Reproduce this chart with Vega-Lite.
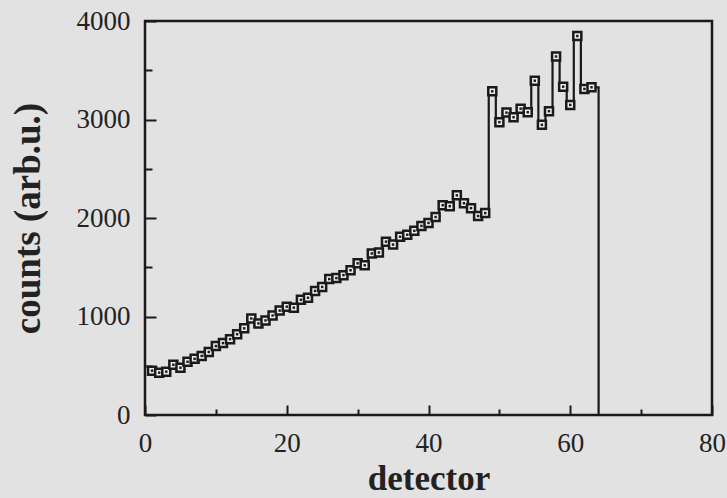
{
  "$schema": "https://vega.github.io/schema/vega-lite/v6.json",
  "width": 567,
  "height": 394,
  "autosize": {"type": "none"},
  "padding": {"left": 145, "top": 21, "right": 15, "bottom": 83},
  "background": "#e2e2e2",
  "config": {
    "view": {"stroke": "#1a1a1a", "strokeWidth": 2.5, "fill": "#e2e2e2"},
    "axis": {
      "domain": false,
      "grid": false,
      "tickColor": "#1a1a1a",
      "tickWidth": 2,
      "labelFont": "Liberation Serif",
      "labelFontSize": 27,
      "labelColor": "#222222",
      "titleFont": "Liberation Serif",
      "titleFontWeight": "bold",
      "titleColor": "#222222"
    }
  },
  "datasets": {
    "points": [
      {"detector": 1, "counts": 450}, {"detector": 2, "counts": 430}, {"detector": 3, "counts": 440},
      {"detector": 4, "counts": 510}, {"detector": 5, "counts": 480}, {"detector": 6, "counts": 540},
      {"detector": 7, "counts": 570}, {"detector": 8, "counts": 600}, {"detector": 9, "counts": 640},
      {"detector": 10, "counts": 700}, {"detector": 11, "counts": 730}, {"detector": 12, "counts": 770},
      {"detector": 13, "counts": 820}, {"detector": 14, "counts": 880}, {"detector": 15, "counts": 980},
      {"detector": 16, "counts": 930}, {"detector": 17, "counts": 960}, {"detector": 18, "counts": 1010},
      {"detector": 19, "counts": 1060}, {"detector": 20, "counts": 1100}, {"detector": 21, "counts": 1090},
      {"detector": 22, "counts": 1170}, {"detector": 23, "counts": 1190}, {"detector": 24, "counts": 1260},
      {"detector": 25, "counts": 1300}, {"detector": 26, "counts": 1380}, {"detector": 27, "counts": 1390},
      {"detector": 28, "counts": 1420}, {"detector": 29, "counts": 1470}, {"detector": 30, "counts": 1540},
      {"detector": 31, "counts": 1520}, {"detector": 32, "counts": 1640}, {"detector": 33, "counts": 1650},
      {"detector": 34, "counts": 1760}, {"detector": 35, "counts": 1730}, {"detector": 36, "counts": 1810},
      {"detector": 37, "counts": 1830}, {"detector": 38, "counts": 1870}, {"detector": 39, "counts": 1920},
      {"detector": 40, "counts": 1950}, {"detector": 41, "counts": 2010}, {"detector": 42, "counts": 2130},
      {"detector": 43, "counts": 2120}, {"detector": 44, "counts": 2230}, {"detector": 45, "counts": 2150},
      {"detector": 46, "counts": 2100}, {"detector": 47, "counts": 2020}, {"detector": 48, "counts": 2050},
      {"detector": 49, "counts": 3286}, {"detector": 50, "counts": 2973}, {"detector": 51, "counts": 3070},
      {"detector": 52, "counts": 3023}, {"detector": 53, "counts": 3110}, {"detector": 54, "counts": 3074},
      {"detector": 55, "counts": 3394}, {"detector": 56, "counts": 2946}, {"detector": 57, "counts": 3084},
      {"detector": 58, "counts": 3640}, {"detector": 59, "counts": 3333}, {"detector": 60, "counts": 3148},
      {"detector": 61, "counts": 3848}, {"detector": 62, "counts": 3310}, {"detector": 63, "counts": 3327}
    ],
    "trace": [
      {"detector": 1, "counts": 450}, {"detector": 2, "counts": 430}, {"detector": 3, "counts": 440},
      {"detector": 4, "counts": 510}, {"detector": 5, "counts": 480}, {"detector": 6, "counts": 540},
      {"detector": 7, "counts": 570}, {"detector": 8, "counts": 600}, {"detector": 9, "counts": 640},
      {"detector": 10, "counts": 700}, {"detector": 11, "counts": 730}, {"detector": 12, "counts": 770},
      {"detector": 13, "counts": 820}, {"detector": 14, "counts": 880}, {"detector": 15, "counts": 980},
      {"detector": 16, "counts": 930}, {"detector": 17, "counts": 960}, {"detector": 18, "counts": 1010},
      {"detector": 19, "counts": 1060}, {"detector": 20, "counts": 1100}, {"detector": 21, "counts": 1090},
      {"detector": 22, "counts": 1170}, {"detector": 23, "counts": 1190}, {"detector": 24, "counts": 1260},
      {"detector": 25, "counts": 1300}, {"detector": 26, "counts": 1380}, {"detector": 27, "counts": 1390},
      {"detector": 28, "counts": 1420}, {"detector": 29, "counts": 1470}, {"detector": 30, "counts": 1540},
      {"detector": 31, "counts": 1520}, {"detector": 32, "counts": 1640}, {"detector": 33, "counts": 1650},
      {"detector": 34, "counts": 1760}, {"detector": 35, "counts": 1730}, {"detector": 36, "counts": 1810},
      {"detector": 37, "counts": 1830}, {"detector": 38, "counts": 1870}, {"detector": 39, "counts": 1920},
      {"detector": 40, "counts": 1950}, {"detector": 41, "counts": 2010}, {"detector": 42, "counts": 2130},
      {"detector": 43, "counts": 2120}, {"detector": 44, "counts": 2230}, {"detector": 45, "counts": 2150},
      {"detector": 46, "counts": 2100}, {"detector": 47, "counts": 2020}, {"detector": 48, "counts": 2050},
      {"detector": 49, "counts": 3286}, {"detector": 50, "counts": 2973}, {"detector": 51, "counts": 3070},
      {"detector": 52, "counts": 3023}, {"detector": 53, "counts": 3110}, {"detector": 54, "counts": 3074},
      {"detector": 55, "counts": 3394}, {"detector": 56, "counts": 2946}, {"detector": 57, "counts": 3084},
      {"detector": 58, "counts": 3640}, {"detector": 59, "counts": 3333}, {"detector": 60, "counts": 3148},
      {"detector": 61, "counts": 3848}, {"detector": 62, "counts": 3310}, {"detector": 63, "counts": 3327},
      {"detector": 64, "counts": 3327}, {"detector": 64, "counts": 0}
    ]
  },
  "encoding": {
    "x": {
      "field": "detector", "type": "quantitative",
      "scale": {"domain": [0, 80], "nice": false, "zero": false},
      "axis": {
        "title": "detector",
        "titleFontSize": 35,
        "values": [0, 10, 20, 30, 40, 50, 60, 70, 80],
        "labelExpr": "datum.value % 20 === 0 ? datum.label : ''",
        "tickSize": {"condition": {"test": "datum.value % 20 === 0", "value": -10}, "value": -6},
        "labelPadding": 25,
        "labelFlush": false,
        "labelOverlap": false,
        "titleY": 74,
        "titleBaseline": "alphabetic"
      }
    },
    "y": {
      "field": "counts", "type": "quantitative",
      "scale": {"domain": [0, 4000], "nice": false},
      "axis": {
        "title": "counts (arb.u.)",
        "titleFontSize": 37,
        "values": [0, 500, 1000, 1500, 2000, 2500, 3000, 3500, 4000],
        "labelExpr": "datum.value % 1000 === 0 ? datum.label : ''",
        "format": "d",
        "tickSize": {"condition": {"test": "datum.value % 1000 === 0", "value": -11}, "value": -7},
        "labelPadding": 26,
        "labelFlush": false,
        "labelOverlap": false,
        "titleX": -117,
        "titleY": 197,
        "titleAlign": "center",
        "titleBaseline": "middle"
      }
    }
  },
  "layer": [
    {
      "data": {"name": "trace"},
      "mark": {"type": "line", "interpolate": "step", "stroke": "#1a1a1a", "strokeWidth": 2.2}
    },
    {
      "data": {"name": "points"},
      "mark": {"type": "point", "shape": "square", "size": 64, "filled": true, "fill": "#ececec", "stroke": "#1a1a1a", "strokeWidth": 2.5, "opacity": 1}
    },
    {
      "data": {"name": "points"},
      "mark": {"type": "point", "shape": "square", "size": 6, "filled": true, "fill": "#1a1a1a", "opacity": 1}
    }
  ]
}
